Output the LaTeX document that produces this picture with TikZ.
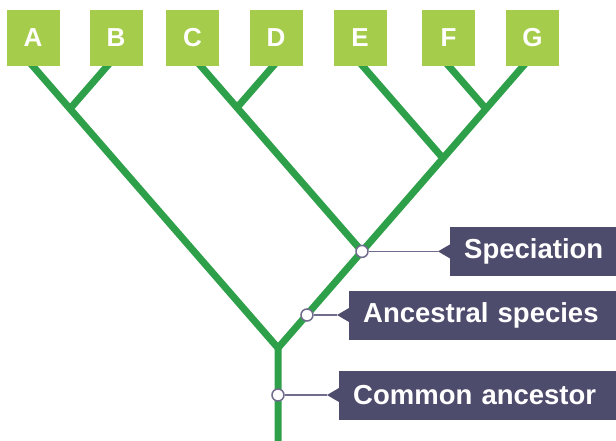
\documentclass[tikz,border=0pt]{standalone}
\usepackage{fontspec}
\setmainfont{Liberation Sans}
\usepackage{xcolor}
\usetikzlibrary{positioning}
\definecolor{leafgreen}{HTML}{A5CD4B}
\definecolor{branchgreen}{HTML}{2FA04A}
\definecolor{slate}{HTML}{4E4C6C}
\definecolor{pin}{HTML}{6F6C8C}

\begin{document}
\begin{tikzpicture}[
            x=1pt, y=-1pt,
            leaf/.style={fill=leafgreen, text=white, font=\bfseries\fontsize{26}{26}\selectfont, minimum width=53pt, minimum height=56pt, inner sep=0pt},
            branch/.style={draw=branchgreen, line width=7pt},
            marker/.style={circle, draw=pin, fill=white, line width=1.5pt, minimum size=12pt, inner sep=0pt},
            tag/.style={fill=slate, text=white, font=\bfseries\fontsize{27.5}{28}\selectfont, anchor=west, minimum height=49pt, inner xsep=14pt, text width=260pt, align=left},
            pinline/.style={draw=pin, line width=1.8pt},
        ]
            \useasboundingbox (0,0) rectangle (616,441);
            \clip (0,0) rectangle (616,441);

            \coordinate (root) at (278,348);
            \coordinate (base) at (278,445);
            \coordinate (ab) at (70,108.8);
            \coordinate (cd) at (237,107.6);
            \coordinate (spec) at (362,251.4);
            \coordinate (efg) at (443,158.3);
            \coordinate (fg) at (486,108.8);
            \coordinate (a0) at (24.1,56);
            \coordinate (b0) at (115.9,56);
            \coordinate (c0) at (192.1,56);
            \coordinate (d0) at (281.9,56);
            \coordinate (e0) at (354,56);
            \coordinate (f0) at (440.1,56);
            \coordinate (g0) at (531.9,56);

            \draw[branch] (a0) -- (ab) -- (root) -- (base);
            \draw[branch] (root) -- (spec) -- (efg) -- (fg) -- (g0);
            \draw[branch] (b0) -- (ab);
            \draw[branch] (c0) -- (cd) -- (spec);
            \draw[branch] (d0) -- (cd);
            \draw[branch] (e0) -- (efg);
            \draw[branch] (f0) -- (fg);

            \node[leaf] (A) at (33,38) {A};
            \node[leaf] (B) at (116,38) {B};
            \node[leaf] (C) at (192.5,38) {C};
            \node[leaf] (D) at (276,38) {D};
            \node[leaf] (E) at (360,38) {E};
            \node[leaf] (F) at (448.5,38) {F};
            \node[leaf] (G) at (532.5,38) {G};

            \node[marker] (specdot) at (spec) {};
            \node[marker] (ancdot) at (307,315) {};
            \node[marker] (commondot) at (278,395) {};

            \node[tag] (spectag) at (450,251.4) {Speciation};
            \node[tag] (anctag) at (349,315) {Ancestral species};
            \node[tag] (commontag) at (339,395) {Common ancestor};

            \coordinate[left=12pt of spectag.west] (spectip);
            \coordinate[left=12pt of anctag.west] (anctip);
            \coordinate[left=12pt of commontag.west] (commontip);

            \fill[slate] ([yshift=7pt]spectag.west) -- (spectip) -- ([yshift=-7pt]spectag.west) -- cycle;
            \fill[slate] ([yshift=7pt]anctag.west) -- (anctip) -- ([yshift=-7pt]anctag.west) -- cycle;
            \fill[slate] ([yshift=7pt]commontag.west) -- (commontip) -- ([yshift=-7pt]commontag.west) -- cycle;

            \draw[pinline] (specdot) -- (spectip);
            \draw[pinline] (ancdot) -- (anctip);
            \draw[pinline] (commondot) -- (commontip);
        \end{tikzpicture}
\end{document}
